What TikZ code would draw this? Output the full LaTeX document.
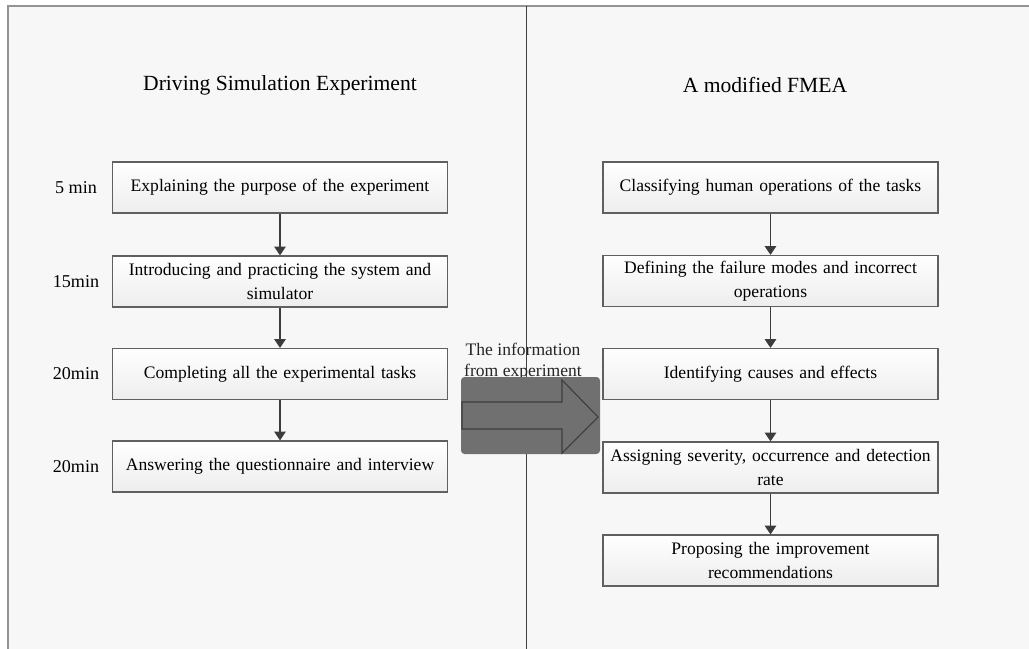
\documentclass[tikz,border=0pt]{standalone}
\usepackage{fontspec}
\setmainfont{Liberation Serif}
\usetikzlibrary{arrows.meta}

\definecolor{blockgray}{HTML}{707070}
\definecolor{edgegray}{HTML}{3C3C3C}
\hyphenpenalty=10000

\begin{document}
\begin{tikzpicture}[x=0.02cm, y=-0.02cm,
  stage/.style={draw=gray!75!black, line width=0.7pt, top color=white, bottom color=gray!14,
    minimum width=6.7cm, minimum height=1.02cm, text width=6.62cm, inner sep=0.5pt,
    align=center, font=\fontsize{10}{13.6}\selectfont},
  timelabel/.style={font=\fontsize{10.3}{13.6}\selectfont},
  headline/.style={font=\fontsize{12.3}{15}\selectfont},
  flow/.style={draw=edgegray, line width=0.75pt, -{Triangle[length=5pt, width=6.5pt]}}]

\useasboundingbox (0,0) rectangle (1029,649);

% Background
\fill[white] (0,0) rectangle (1029,649);
\fill[gray!6] (8,6) rectangle (1029,649);
\draw[gray!85, line width=1.1pt] (8,649) -- (8,6) -- (1029,6);
\draw[black!75, line width=0.5pt] (526,6) -- (526,649);

% === HEADINGS ===
\node[headline] (titleleft) at (280,85) {Driving Simulation Experiment};
\node[headline] (titleright) at (765,85) {A modified FMEA};

% === LEFT COLUMN: EXPERIMENT ===
\node[stage] (exp1) at (280,187.5) {Explaining the purpose of the experiment};
\node[stage] (exp2) at (280,281.5) {Introducing and practicing the system and\\ simulator};
\node[stage] (exp3) at (280,374) {Completing all the experimental tasks};
\node[stage] (exp4) at (280,466.5) {Answering the questionnaire and interview};

\node[timelabel] (time1) at (76,187.5) {5 min};
\node[timelabel] (time2) at (76,281.5) {15min};
\node[timelabel] (time3) at (76,374) {20min};
\node[timelabel] (time4) at (76,466.5) {20min};

\foreach \a/\b in {exp1/exp2,exp2/exp3,exp3/exp4} {\draw[flow] (\a) -- (\b);}

% === RIGHT COLUMN: FMEA ===
\node[stage] (fmea1) at (770.5,187.5) {Classifying human operations of the tasks};
\node[stage] (fmea2) at (770.5,281) {Defining the failure modes and incorrect\\ operations};
\node[stage] (fmea3) at (770.5,374) {Identifying causes and effects};
\node[stage] (fmea4) at (770.5,467.5) {Assigning severity, occurrence and detection\\ rate};
\node[stage] (fmea5) at (770.5,560.5) {Proposing the improvement\\ recommendations};

\foreach \a/\b in {fmea1/fmea2,fmea2/fmea3,fmea3/fmea4,fmea4/fmea5} {\draw[flow] (\a) -- (\b);}

% === TRANSFER BLOCK ===
\node[align=center, text=black!85, font=\fontsize{10}{12}\selectfont] (info) at (523,362) {The information\\ from experiment};
\fill[blockgray, rounded corners=2pt] (461,377) rectangle (600,454);
\draw[edgegray, line width=0.6pt, line join=miter]
  (462,402) -- (562,402) -- (562,380) -- (598,417) -- (562,453) -- (562,429) -- (462,429) -- cycle;

\end{tikzpicture}
\end{document}
